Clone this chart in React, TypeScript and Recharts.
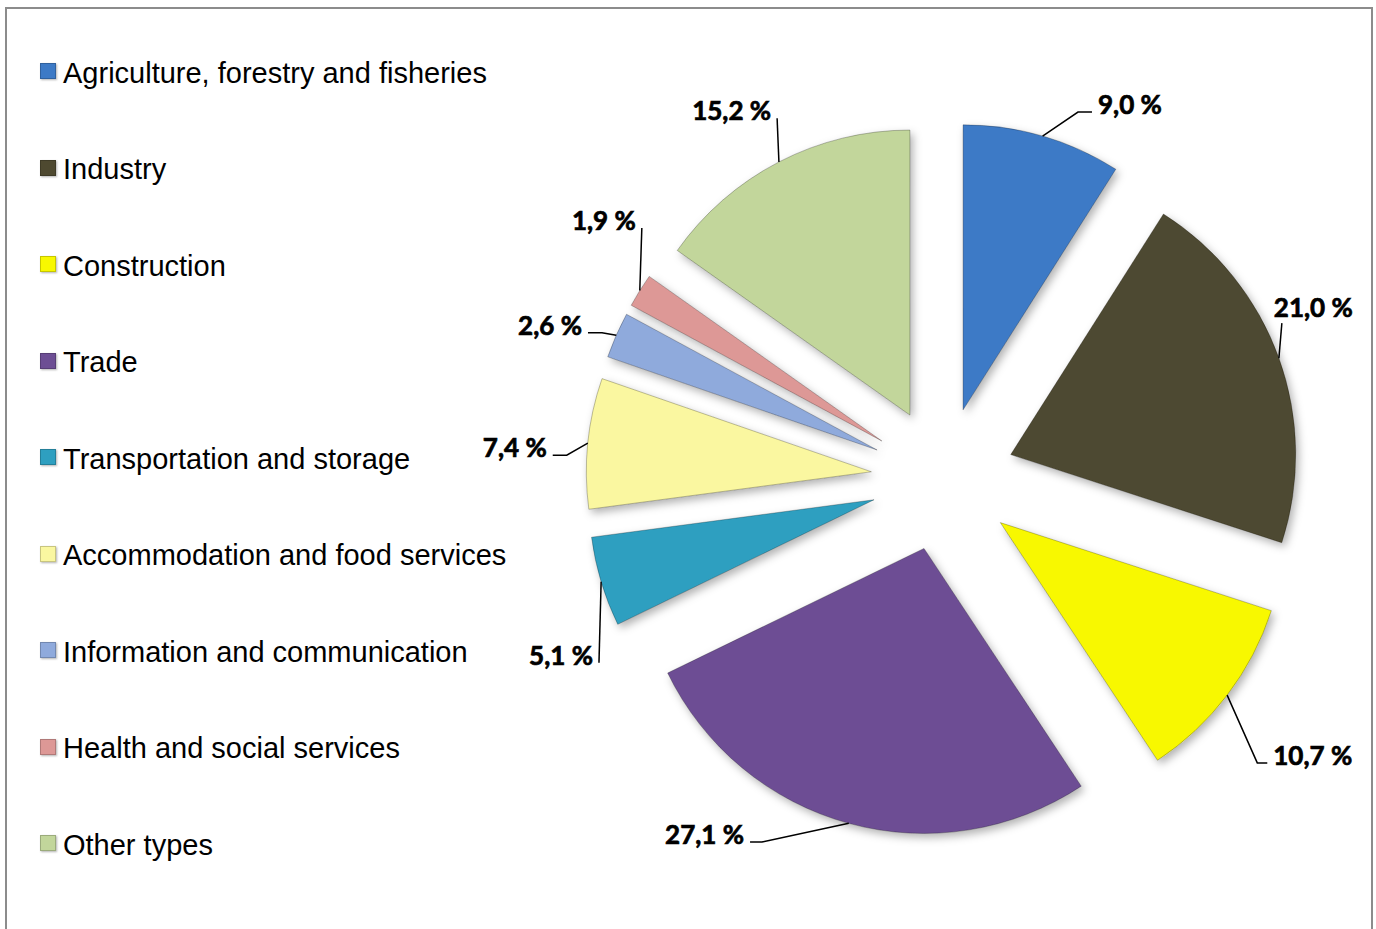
import React from "react";
import { PieChart, Pie, Cell } from "recharts";

const sectors = [
  "Agriculture, forestry and fisheries",
  "Industry",
  "Construction",
  "Trade",
  "Transportation and storage",
  "Accommodation and food services",
  "Information and communication",
  "Health and social services",
  "Other types",
];
const shares = [9.0, 21.0, 10.7, 27.1, 5.1, 7.4, 2.6, 1.9, 15.2];

const chartData = sectors.map((name, i) => ({ name, value: shares[i] }));

const colors = [
  "#3d7ac6",
  "#4e4930",
  "#f8f800",
  "#6d4e94",
  "#2e9fc0",
  "#faf7a0",
  "#8faadc",
  "#dd9896",
  "#c2d69b",
];

const PIE_X = 943;
const PIE_Y = 479;
const RADIUS = 285;
const EXPLODE = 72;

// end of each leader line: angle clockwise from 12 o'clock, distance from pie centre
const labelAngle = [22.1, 65.3, 131.2, 208.0, 241.9, 273.5, 292.4, 309.8, 335.3];
const labelDist = [396, 373, 431, 411, 390, 391, 384, 392, 397];
const labelSide = ["right", "above", "right", "left", "left", "left", "left", "left", "left"];
const labelElbow = [14, 0, 10, 12, 0, 14, 14, 0, 0];

const RAD = Math.PI / 180;
const total = shares.reduce((a, b) => a + b, 0);

// explode offset of each slice along its middle
const offsets = shares.map((v, i) => {
  const before = shares.slice(0, i).reduce((a, b) => a + b, 0);
  const mid = ((before + v / 2) / total) * 360;
  return { dx: EXPLODE * Math.sin(mid * RAD), dy: -EXPLODE * Math.cos(mid * RAD) };
});

const fmt = (v: number) => v.toFixed(1).replace(".", ",") + " %";

const renderLabel = (props: any) => {
  const { cx, cy, midAngle, outerRadius, index } = props;
  const r = outerRadius + EXPLODE;
  const px = cx + r * Math.cos(-midAngle * RAD);
  const py = cy + r * Math.sin(-midAngle * RAD);
  const t = labelAngle[index] * RAD;
  const ax = cx + labelDist[index] * Math.sin(t);
  const ay = cy - labelDist[index] * Math.cos(t);
  const side = labelSide[index];
  const ex = side === "right" ? ax - labelElbow[index] : ax + labelElbow[index];
  let tx = ax - 6;
  let ty = ay + 2;
  let anchor = "end";
  if (side === "right") {
    tx = ax + 6;
    anchor = "start";
  } else if (side === "above") {
    tx = ax - 8;
    ty = ay - 6;
    anchor = "start";
  }
  return (
    <g key={`lbl-${index}`}>
      <polyline
        points={`${px},${py} ${ex},${ay} ${ax},${ay}`}
        fill="none"
        stroke="#000"
        strokeWidth={1.5}
      />
      <text
        x={tx}
        y={ty}
        textAnchor={anchor}
        fontFamily="Lato, 'Open Sans', sans-serif"
        fontWeight={700}
        fontSize={26}
        fill="#000"
        stroke="#000"
        strokeWidth={0.7}
      >
        {fmt(shares[index])}
      </text>
    </g>
  );
};

export default function App() {
  return (
    <div style={{ position: "absolute", left: 0, top: 0, width: 1376, height: 929, background: "#fff" }}>
      <svg width={0} height={0} style={{ position: "absolute" }}>
        <defs>
          <filter id="sliceShadow" x="-20%" y="-20%" width="140%" height="140%">
            <feDropShadow dx="3" dy="4" stdDeviation="4" floodColor="#000" floodOpacity="0.3" />
          </filter>
        </defs>
      </svg>
      <div
        style={{
          position: "absolute",
          left: 5,
          top: 7,
          width: 1368,
          height: 922,
          boxSizing: "border-box",
          borderTop: "2px solid #8c8c8c",
          borderLeft: "2px solid #8c8c8c",
          borderRight: "2px solid #8c8c8c",
        }}
      />
      <div style={{ position: "absolute", left: 0, top: 0 }}>
        <PieChart width={1376} height={929} margin={{ top: 0, right: 0, bottom: 0, left: 0 }}>
          {offsets.map((o, i) => (
            <Pie
              key={`slice-${i}`}
              data={chartData}
              dataKey="value"
              nameKey="name"
              cx={PIE_X + o.dx}
              cy={PIE_Y + o.dy}
              outerRadius={RADIUS}
              startAngle={90}
              endAngle={-270}
              legendType="none"
              isAnimationActive={false}
            >
              {chartData.map((d, j) => (
                <Cell
                  key={`c-${j}`}
                  fill={j === i ? colors[j] : "none"}
                  stroke={j === i ? "rgba(0,0,0,0.25)" : "none"}
                  strokeWidth={1}
                  filter={j === i ? "url(#sliceShadow)" : undefined}
                />
              ))}
            </Pie>
          ))}
          <Pie
            data={chartData}
            dataKey="value"
            nameKey="name"
            cx={PIE_X}
            cy={PIE_Y}
            outerRadius={RADIUS}
            startAngle={90}
            endAngle={-270}
            legendType="none"
            isAnimationActive={false}
            label={renderLabel}
            labelLine={false}
          >
            {chartData.map((d, j) => (
              <Cell key={`l-${j}`} fill="none" stroke="none" />
            ))}
          </Pie>
        </PieChart>
      </div>
      {sectors.map((name, i) => (
        <div key={name}>
          <div
            style={{
              position: "absolute",
              left: 40,
              top: 63 + i * 96.5,
              width: 16,
              height: 16,
              boxSizing: "border-box",
              background: colors[i],
              border: "1px solid rgba(0,0,0,0.2)",
              boxShadow: "1px 1px 2px rgba(0,0,0,0.3)",
            }}
          />
          <div
            style={{
              position: "absolute",
              left: 63,
              top: 58.5 + i * 96.5,
              fontFamily: "'Liberation Sans', Arial, sans-serif",
              fontSize: 29,
              lineHeight: "29px",
              color: "#000",
              whiteSpace: "nowrap",
            }}
          >
            {name}
          </div>
        </div>
      ))}
    </div>
  );
}
